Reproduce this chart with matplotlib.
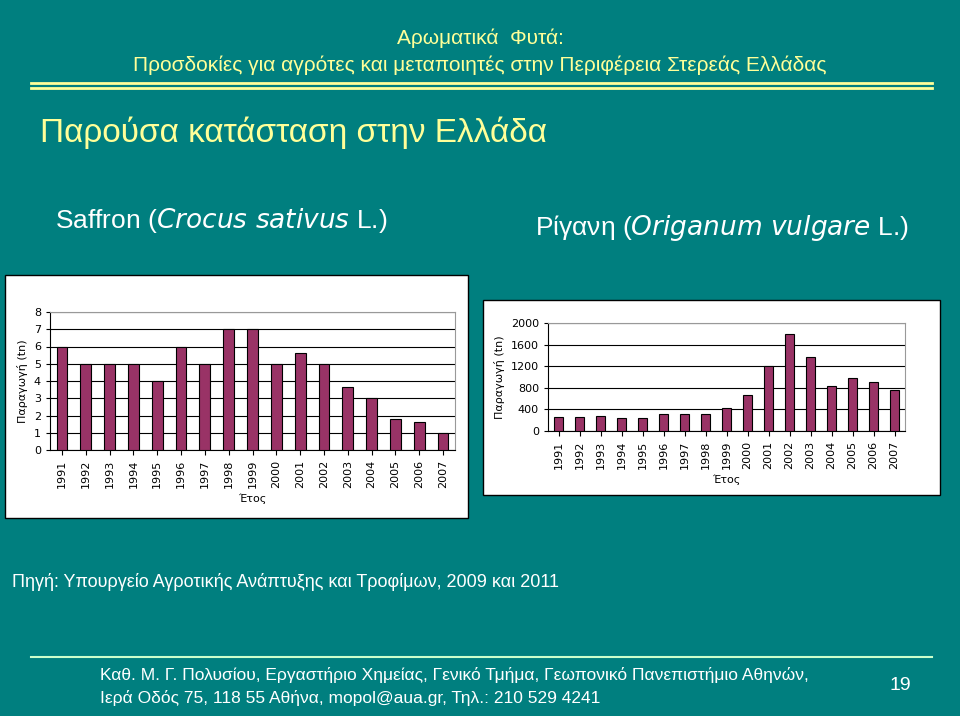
import matplotlib.pyplot as plt
from matplotlib.patches import Rectangle

# === Data ===
years = [str(y) for y in range(1991, 2008)]
saffron_tn = [6, 5, 5, 5, 4, 6, 5, 7, 7, 5, 5.6, 5, 3.65, 3, 1.8, 1.6, 1]
oregano_tn = [260, 260, 280, 235, 235, 310, 310, 310, 420, 660, 1200, 1800, 1370, 840, 990, 900, 760]

TEAL = "#007F7F"
YELLOW = "#FFFF99"
BAR = "#993366"
W, H = 960, 716
plt.rcParams["font.family"] = ["Liberation Sans", "DejaVu Sans"]

fig = plt.figure(figsize=(W / 100, H / 100), dpi=100)
fig.patch.set_facecolor(TEAL)


def px(x, y):
    return x / W, 1 - y / H


def text(x, y, s, size, color=YELLOW, ha="left"):
    fig.text(*px(x, y), s, fontsize=size, color=color, va="center", ha=ha)


# header
text(480, 38, "Αρωματικά  Φυτά:", 15, ha="center")
text(480, 65, "Προσδοκίες για αγρότες και μεταποιητές στην Περιφέρεια Στερεάς Ελλάδας", 15, ha="center")
for yy in (83, 88):
    fig.add_artist(plt.Line2D([31 / W, 932 / W], [1 - yy / H] * 2, color=YELLOW, lw=2))
text(40, 133, "Παρούσα κατάσταση στην Ελλάδα", 24)
text(55, 220, "Saffron (" + r"$\it{Crocus\ sativus}$" + " L.)", 19, color="white")
text(535, 228, "Ρίγανη (" + r"$\it{Origanum\ vulgare}$" + " L.)", 19, color="white")

text(12, 582, "Πηγή: Υπουργείο Αγροτικής Ανάπτυξης και Τροφίμων, 2009 και 2011", 13, color="white")
fig.add_artist(plt.Line2D([31 / W, 932 / W], [1 - 657 / H] * 2, color="#CCFFCC", lw=1.5))
text(100, 675, "Καθ. Μ. Γ. Πολυσίου, Εργαστήριο Χημείας, Γενικό Τμήμα, Γεωπονικό Πανεπιστήμιο Αθηνών,",
     12.5, color="white")
text(100, 698, "Ιερά Οδός 75, 118 55 Αθήνα, mopol@aua.gr, Τηλ.: 210 529 4241", 12.5, color="white")
text(900, 685, "19", 14, color="white", ha="center")

# chart panels (behind the axes)
fig.patches.append(Rectangle(px(5, 518), 463 / W, 243 / H, facecolor="white", edgecolor="black",
                             lw=1, transform=fig.transFigure, figure=fig, zorder=0))
fig.patches.append(Rectangle(px(483, 495), 457 / W, 195 / H, facecolor="white", edgecolor="black",
                             lw=1, transform=fig.transFigure, figure=fig, zorder=0))


def bars(rect, values, ylim, ticks):
    ax = fig.add_axes(rect, zorder=2)
    x = range(len(years))
    ax.bar(x, values, width=0.45, color=BAR, edgecolor="black", lw=0.8, zorder=3)
    ax.set_xlim(-0.5, len(years) - 0.5)
    ax.set_ylim(*ylim)
    ax.set_yticks(ticks)
    ax.set_xticks(list(x))
    ax.set_xticklabels(years, rotation=90, fontsize=8, family="DejaVu Sans")
    ax.tick_params(axis="y", labelsize=8, length=3)
    for lab in ax.get_yticklabels():
        lab.set_family("DejaVu Sans")
    ax.grid(axis="y", color="black", lw=0.8, zorder=0)
    ax.set_facecolor("white")
    for s in ("top", "right"):
        ax.spines[s].set_color("#999999")
    ax.set_xlabel("Έτος", fontsize=8, family="DejaVu Sans")
    ax.set_ylabel("Παραγωγή (tn)", fontsize=8, family="DejaVu Sans")
    return ax


x0, y0 = px(50, 450)
x1, y1 = px(455, 312)
bars([x0, y0, x1 - x0, y1 - y0], saffron_tn, (0, 8), range(0, 9))

x0, y0 = px(548, 431)
x1, y1 = px(905, 323)
bars([x0, y0, x1 - x0, y1 - y0], oregano_tn, (0, 2000), range(0, 2001, 400))

fig.savefig("out.png", dpi=100, facecolor=fig.get_facecolor())
